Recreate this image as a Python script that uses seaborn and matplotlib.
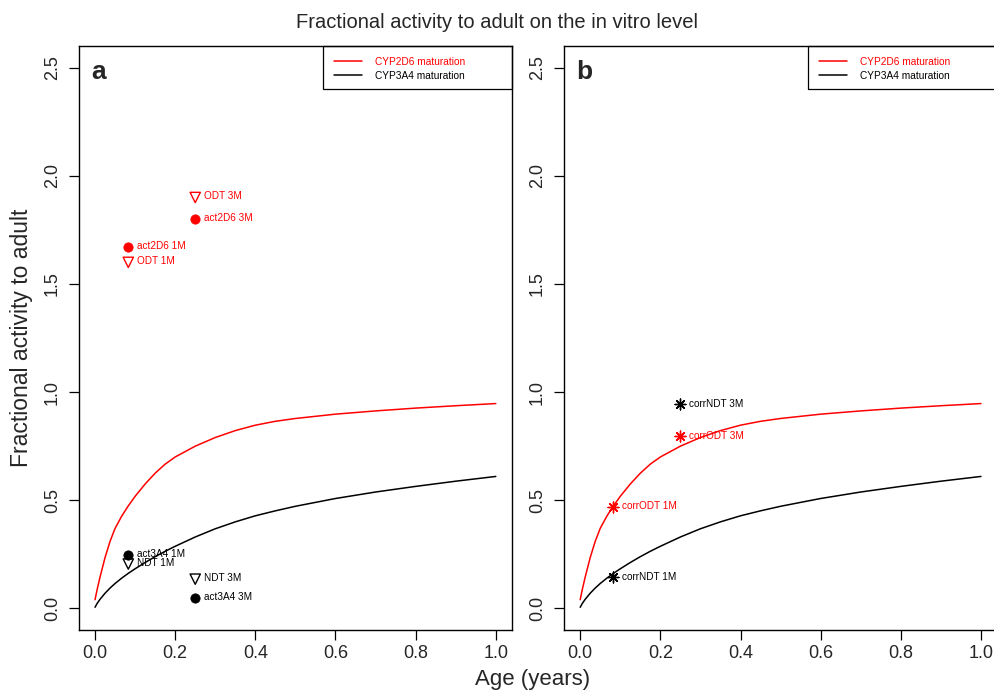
import numpy as np
import pandas as pd
import matplotlib
matplotlib.use("Agg")
import matplotlib.pyplot as plt
from matplotlib.patches import Rectangle
from matplotlib.lines import Line2D
import seaborn as sns

# ---------------------------------------------------------
# Data
# ---------------------------------------------------------
age = [0.0, 0.005, 0.0125, 0.025, 0.0375, 0.05, 0.0667, 0.083, 0.1, 0.125,
       0.15, 0.175, 0.2, 0.25, 0.3, 0.35, 0.4, 0.45, 0.5, 0.6, 0.7, 0.8,
       0.9, 1.0]
cyp2d6 = [0.04, 0.085, 0.145, 0.235, 0.31, 0.37, 0.427, 0.474, 0.518, 0.575,
          0.625, 0.667, 0.70, 0.75, 0.79, 0.822, 0.847, 0.865, 0.878, 0.898,
          0.913, 0.926, 0.937, 0.947]
cyp3a4 = [0.005, 0.022, 0.042, 0.07, 0.094, 0.115, 0.14, 0.162, 0.183, 0.212,
          0.239, 0.264, 0.287, 0.33, 0.368, 0.40, 0.428, 0.451, 0.472, 0.508,
          0.538, 0.564, 0.588, 0.61]

# panel a: measured activities
a_labels = ["act2D6 1M", "ODT 1M", "ODT 3M", "act2D6 3M",
            "act3A4 1M", "NDT 1M", "NDT 3M", "act3A4 3M"]
a_age = [0.083, 0.083, 0.25, 0.25, 0.083, 0.083, 0.25, 0.25]
a_val = [1.67, 1.60, 1.90, 1.80, 0.245, 0.205, 0.135, 0.047]
a_kind = ["dot", "tri", "tri", "dot", "dot", "tri", "tri", "dot"]
a_enzyme = ["2D6", "2D6", "2D6", "2D6", "3A4", "3A4", "3A4", "3A4"]

# panel b: corrected activities
b_labels = ["corrNDT 3M", "corrODT 3M", "corrODT 1M", "corrNDT 1M"]
b_age = [0.25, 0.25, 0.083, 0.083]
b_val = [0.945, 0.797, 0.471, 0.145]
b_enzyme = ["3A4", "2D6", "2D6", "3A4"]

colors = {"2D6": "#ff0000", "3A4": "#000000"}

curves = pd.DataFrame({"age": age, "CYP2D6 maturation": cyp2d6,
                       "CYP3A4 maturation": cyp3a4})
pts_a = pd.DataFrame({"age": a_age, "val": a_val, "kind": a_kind,
                      "enzyme": a_enzyme, "label": a_labels})
pts_b = pd.DataFrame({"age": b_age, "val": b_val, "enzyme": b_enzyme,
                      "label": b_labels})

sns.set_theme(style="white")
plt.rcParams["font.family"] = ["Liberation Sans", "DejaVu Sans"]

fig = plt.figure(figsize=(9.95, 6.91), dpi=100)
ax_a = fig.add_axes([0.0794, 0.0883, 0.435, 0.845])
ax_b = fig.add_axes([0.567, 0.0883, 0.435, 0.845])


def draw_curves(ax):
    sns.lineplot(data=curves, x="age", y="CYP2D6 maturation", color="red",
                 lw=1.1, ax=ax, legend=False)
    sns.lineplot(data=curves, x="age", y="CYP3A4 maturation", color="black",
                 lw=1.1, ax=ax, legend=False)


def style_axes(ax, letter):
    ax.set_xlim(-0.04, 1.04)
    ax.set_ylim(-0.1, 2.6)
    ax.set_xticks(np.arange(0, 1.01, 0.2))
    ax.set_yticks(np.arange(0, 2.51, 0.5))
    ax.set_xticklabels([f"{v:.1f}" for v in np.arange(0, 1.01, 0.2)],
                       fontsize=13)
    ax.set_yticklabels([f"{v:.1f}" for v in np.arange(0, 2.51, 0.5)],
                       fontsize=13, rotation=90, va="center")
    ax.tick_params(axis="both", direction="out", length=7, width=0.9,
                   color="black", bottom=True, left=True, pad=4)
    ax.tick_params(axis="y", pad=6)
    for s in ax.spines.values():
        s.set_color("black")
        s.set_linewidth(1.0)
    ax.set_xlabel("")
    ax.set_ylabel("")
    ax.text(0.028, 0.955, letter, transform=ax.transAxes, fontsize=19,
            fontweight="bold", va="center", ha="left")
    # R-style legend box in the top right corner
    ax.add_patch(Rectangle((0.5635, 0.926), 0.4365, 0.074,
                           transform=ax.transAxes, fill=False,
                           edgecolor="black", lw=0.9, zorder=5,
                           clip_on=False))
    handles = [Line2D([], [], color="red", lw=1.1),
               Line2D([], [], color="black", lw=1.1)]
    leg = ax.legend(handles, ["CYP2D6 maturation", "CYP3A4 maturation"],
                    loc="upper left", bbox_to_anchor=(0.5635, 1.0),
                    fontsize=7.3, frameon=False, borderaxespad=0,
                    handlelength=2.8, borderpad=1.05, labelspacing=0.42,
                    handletextpad=1.25)
    for txt, c in zip(leg.get_texts(), ["red", "black"]):
        txt.set_color(c)


# ---------------- panel a ----------------
draw_curves(ax_a)
for kind in ["dot", "tri"]:
    sub = pts_a[pts_a["kind"] == kind]
    for enz, grp in sub.groupby("enzyme"):
        if kind == "dot":
            sns.scatterplot(data=grp, x="age", y="val", marker="o", s=45,
                            color=colors[enz], edgecolor=colors[enz],
                            ax=ax_a, legend=False, zorder=3)
        else:
            sns.scatterplot(data=grp, x="age", y="val", marker="v", s=55,
                            facecolor="none", edgecolor=colors[enz],
                            linewidth=1.0, ax=ax_a, legend=False, zorder=3)
for _, r in pts_a.iterrows():
    ax_a.text(r["age"] + 0.022, r["val"] + 0.005, r["label"], fontsize=7.2,
              color=colors[r["enzyme"]], va="center", ha="left")
style_axes(ax_a, "a")

# ---------------- panel b ----------------
draw_curves(ax_b)
for enz, grp in pts_b.groupby("enzyme"):
    sns.scatterplot(data=grp, x="age", y="val", marker=(8, 2, 0), s=60,
                    color=colors[enz], edgecolor=colors[enz], linewidth=1.0,
                    ax=ax_b, legend=False, zorder=3)
for _, r in pts_b.iterrows():
    ax_b.text(r["age"] + 0.022, r["val"] + 0.002, r["label"], fontsize=7.2,
              color=colors[r["enzyme"]], va="center", ha="left")
style_axes(ax_b, "b")

fig.text(0.5, 0.968, "Fractional activity to adult on the in vitro level",
         ha="center", va="center", fontsize=14.5)
fig.text(0.022, 0.511, "Fractional activity to adult", rotation=90,
         ha="center", va="center", fontsize=16.5)
fig.text(0.535, 0.016, "Age (years)", ha="center", va="center", fontsize=16)

fig.savefig("out.png", dpi=100)
